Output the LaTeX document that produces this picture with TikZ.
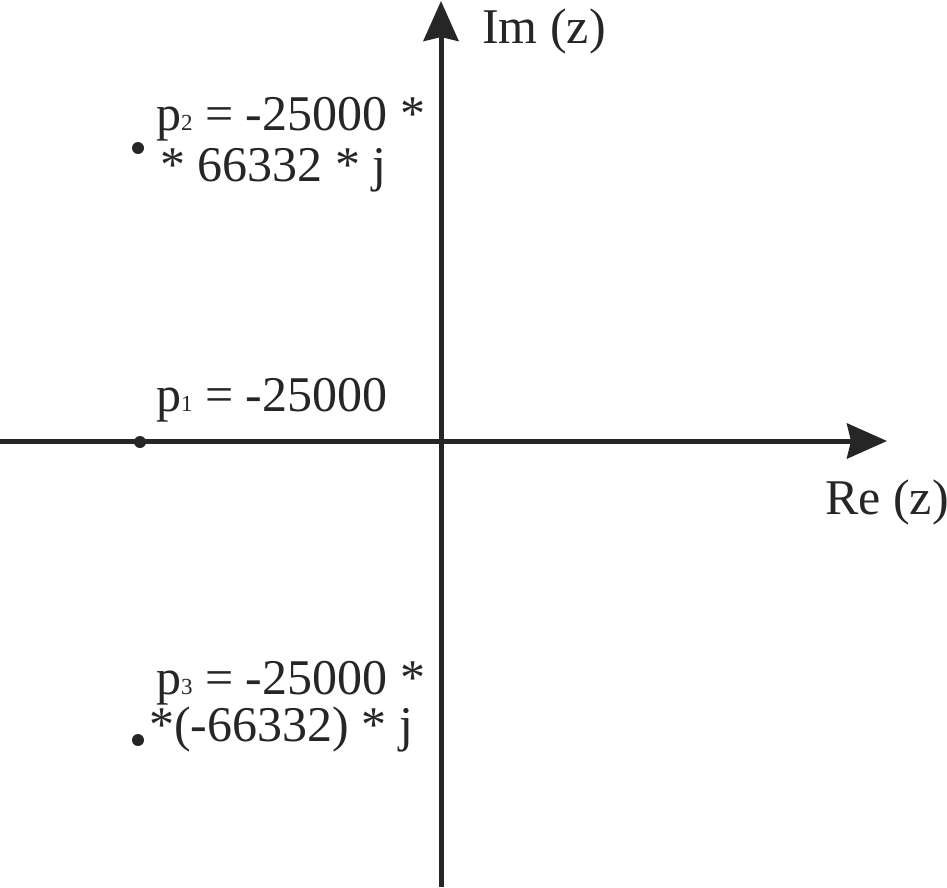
\documentclass[tikz,border=0pt]{standalone}
\usepackage{fontspec}
\setmainfont{Liberation Serif}
\usetikzlibrary{arrows.meta}
\newcommand{\subsz}[1]{{\fontsize{23}{23}\selectfont #1}}
\begin{document}
\begin{tikzpicture}[x=1pt,y=-1pt,
  axis/.style={line width=5pt,color=black!85,-{Stealth[length=40pt,width=35pt,inset=4pt]}},
  lbl/.style={anchor=base west,inner sep=0pt,font=\fontsize{50}{50}\selectfont,text=black!85},
  pole/.style={circle,fill=black!85,inner sep=0pt,minimum size=12pt}]
\useasboundingbox (0,0) rectangle (947,887);
\coordinate (xs) at (0,441);
\coordinate (xe) at (887,441);
\coordinate (ys) at (441,887);
\coordinate (ye) at (441,1);
\draw[axis] (xs) -- (xe);
\draw[axis] (ys) -- (ye);
\node[lbl] (im) at (482,43) {Im (z)};
\node[lbl] (re) at (825,514) {Re (z)};
\node[pole] (p1) at (140,442) {};
\node[pole] (p2) at (138,148) {};
\node[pole] (p3) at (138,740) {};
\node[lbl] (l1) at (156,411) {p\subsz{1} = -25000};
\node[lbl] (l2a) at (156,130) {p\subsz{2} = -25000 *};
\node[lbl] (l2b) at (160,181) {* 66332 * j};
\node[lbl] (l3a) at (156,694) {p\subsz{3} = -25000 *};
\node[lbl] (l3b) at (149,741) {*(-66332) * j};
\end{tikzpicture}
\end{document}
